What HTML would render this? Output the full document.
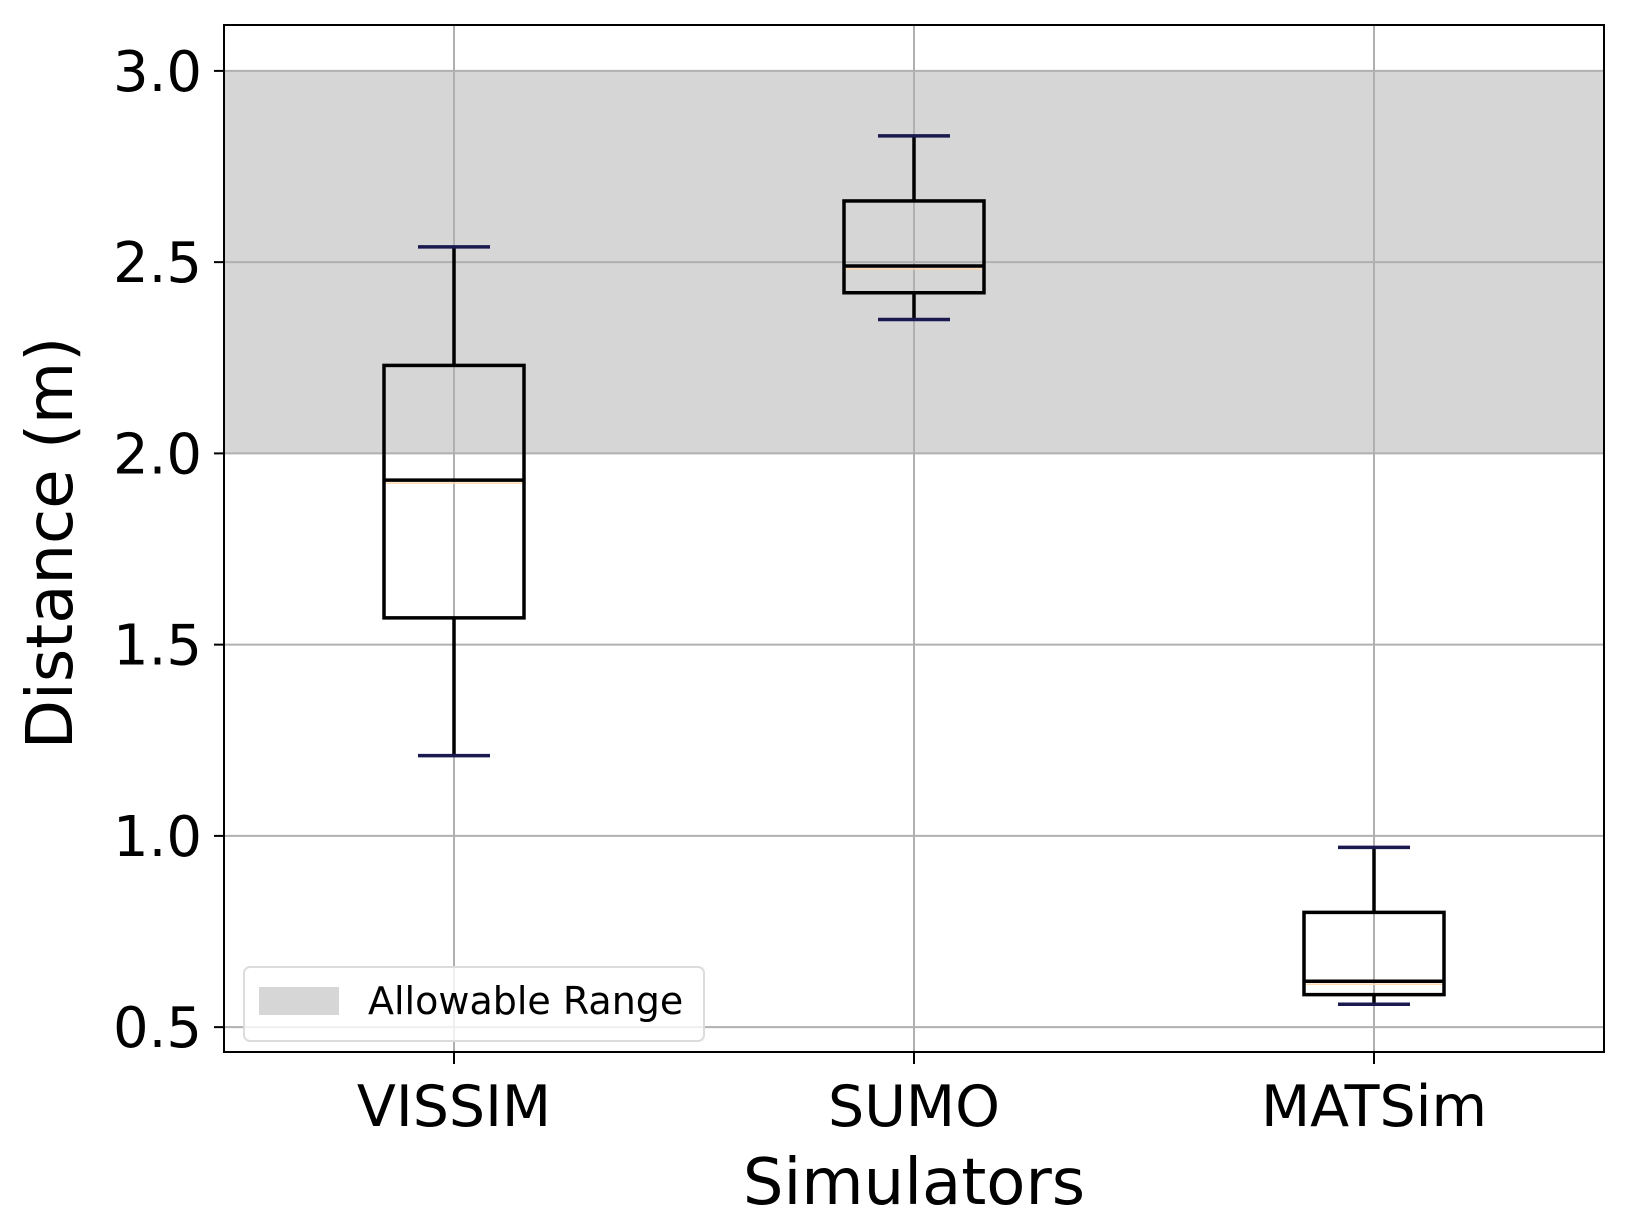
<!DOCTYPE html>
<html><head><meta charset="utf-8"><style>
html,body{margin:0;padding:0;background:#fff;}
svg text{font-family:"DejaVu Sans","Liberation Sans",sans-serif;fill:#000;}
</style></head><body>
<svg id="chart" width="1628" height="1227" xmlns="http://www.w3.org/2000/svg"></svg>
<script>
const categories = ["VISSIM","SUMO","MATSim"];
const whiskerLow = [1.21, 2.35, 0.56];
const q1 = [1.57, 2.42, 0.585];
const medians = [1.93, 2.49, 0.62];
const q3 = [2.23, 2.66, 0.80];
const whiskerHigh = [2.54, 2.83, 0.97];
const yTicks = [0.5, 1.0, 1.5, 2.0, 2.5, 3.0];
const yTickLabels = ["0.5","1.0","1.5","2.0","2.5","3.0"];
const bandRange = [2.0, 3.0];

const L=224, R=1604, T=25, B=1052;
const yMin=0.435, yMax=3.12;
function y(v){ return B - (v - yMin)/(yMax - yMin)*(B - T); }
function x(i){ return L + (i + 0.5)/categories.length*(R - L); }
const svg=document.getElementById('chart');
const NS='http://www.w3.org/2000/svg';
function el(tag, attrs, parent){
  const e=document.createElementNS(NS,tag);
  for(const k in attrs) e.setAttribute(k, attrs[k]);
  (parent||svg).appendChild(e); return e;
}
const band=el('rect',{x:L,y:y(bandRange[1]),width:R-L,height:y(bandRange[0])-y(bandRange[1]),fill:'#d6d6d6'});


yTicks.forEach((t,i)=>{
  const g=el('line',{x1:L,x2:R,y1:y(t),y2:y(t),stroke:'#b0b0b0','stroke-width':2});
  
  
  const tk=el('line',{x1:L-10,x2:L,y1:y(t),y2:y(t),stroke:'#000','stroke-width':2});
  
  
  const lb=el('text',{x:L-22,y:y(t)+20,'text-anchor':'end','font-size':56});
  lb.textContent=yTickLabels[i];
  
  
});
categories.forEach((c,i)=>{
  const g=el('line',{x1:x(i),x2:x(i),y1:T,y2:B,stroke:'#b0b0b0','stroke-width':2});
  
  
  const tk=el('line',{x1:x(i),x2:x(i),y1:B,y2:B+12,stroke:'#000','stroke-width':2});
  
  
  const lb=el('text',{x:x(i),y:1126,'text-anchor':'middle','font-size':57});
  lb.textContent=c;
  
  
});
const bw=140, cw=72;
categories.forEach((c,i)=>{
  const g=el('g',{});
  
  
  const cx=x(i);
  el('line',{x1:cx,x2:cx,y1:y(whiskerLow[i]),y2:y(q1[i]),stroke:'#000','stroke-width':3.5},g);
  el('line',{x1:cx,x2:cx,y1:y(q3[i]),y2:y(whiskerHigh[i]),stroke:'#000','stroke-width':3.5},g);
  el('line',{x1:cx-cw/2,x2:cx+cw/2,y1:y(whiskerLow[i]),y2:y(whiskerLow[i]),stroke:'#1a1a50','stroke-width':3.5},g);
  el('line',{x1:cx-cw/2,x2:cx+cw/2,y1:y(whiskerHigh[i]),y2:y(whiskerHigh[i]),stroke:'#1a1a50','stroke-width':3.5},g);
  el('rect',{x:cx-bw/2,y:y(q3[i]),width:bw,height:y(q1[i])-y(q3[i]),fill:'none',stroke:'#000','stroke-width':3.5},g);
  el('line',{x1:cx-bw/2,x2:cx+bw/2,y1:y(medians[i]),y2:y(medians[i]),stroke:'#000','stroke-width':3.5},g);
  el('line',{x1:cx-bw/2+2,x2:cx+bw/2-2,y1:y(medians[i])+3,y2:y(medians[i])+3,stroke:'#ffd9b0','stroke-width':1.5},g);
});
const fr=el('rect',{x:L,y:T,width:R-L,height:B-T,fill:'none',stroke:'#000','stroke-width':2});


const lg=el('g',{});


el('rect',{x:244,y:967,width:460,height:74,rx:6,fill:'rgba(255,255,255,0.8)',stroke:'#dcdcdc','stroke-width':2},lg);
el('rect',{x:259,y:987,width:80,height:28,fill:'#d6d6d6'},lg);
const lt=el('text',{x:368,y:1014,'font-size':38},lg);
lt.textContent='Allowable Range';


const xt=el('text',{x:(L+R)/2,y:1204,'text-anchor':'middle','font-size':64});
xt.textContent='Simulators';


const yt=el('text',{x:0,y:0,'text-anchor':'middle','font-size':64,transform:'translate(72,543) rotate(-90)'});
yt.textContent='Distance (m)';


</script>
</body></html>
